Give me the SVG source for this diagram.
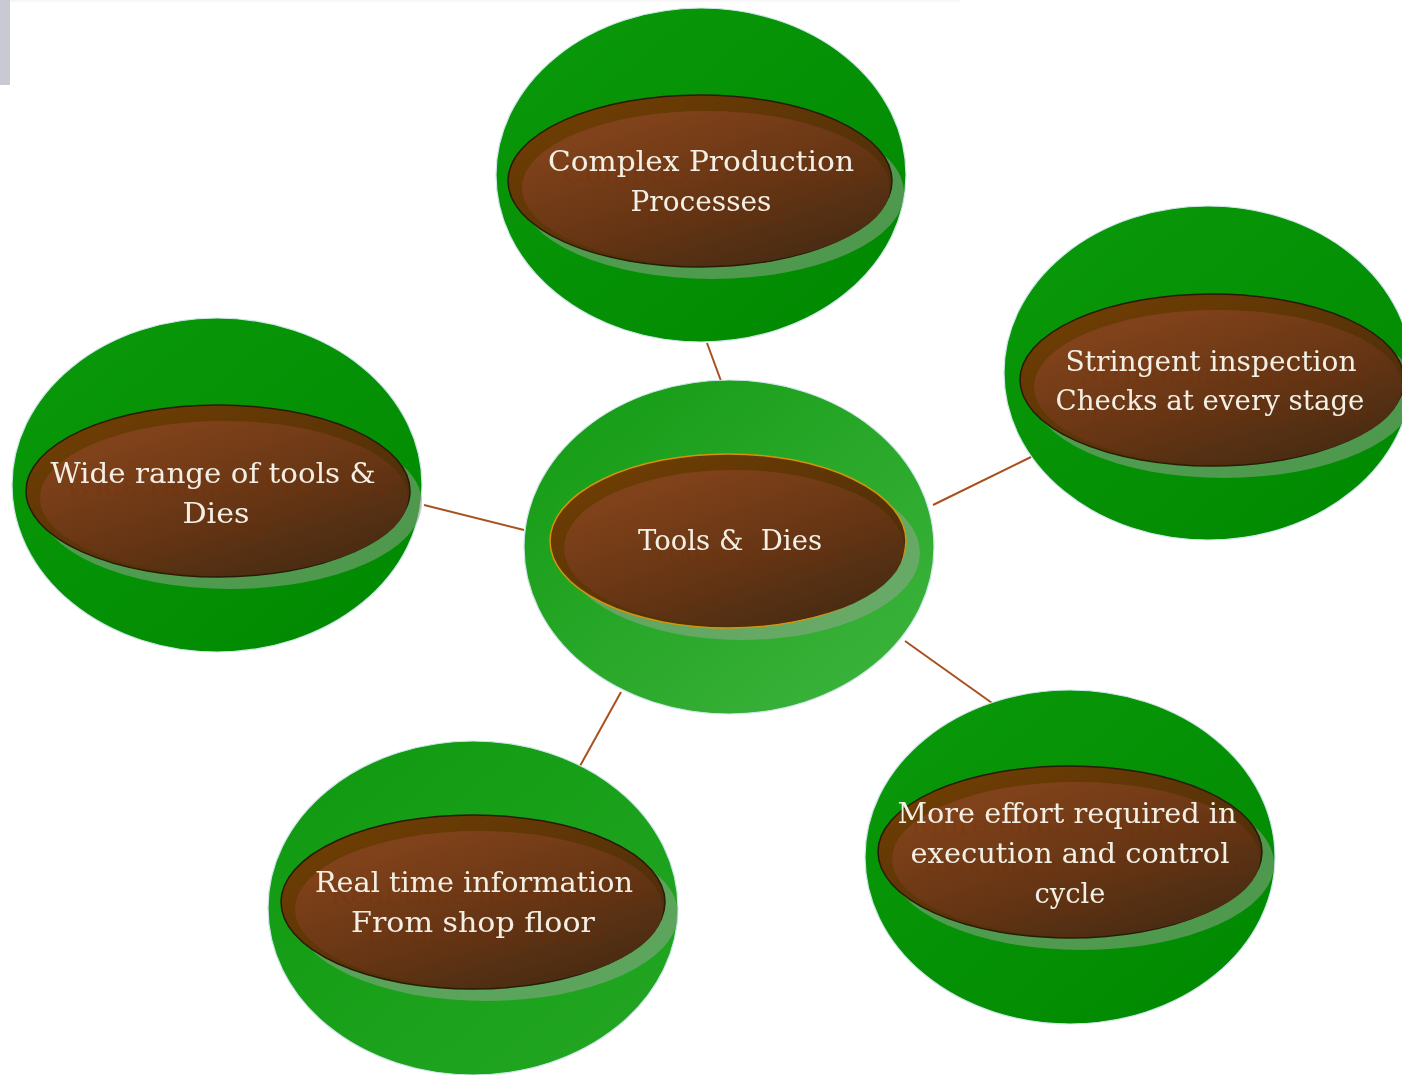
<svg xmlns="http://www.w3.org/2000/svg" width="1402" height="1075" viewBox="0 0 1402 1075">
<style>
.outer{stroke:#cfe6ea;stroke-width:1.2}
.shadow{fill:#9aa59a;opacity:0.5}
.brown{fill:url(#brownG);stroke:#2b1a08;stroke-width:1.5}
.brownC{fill:url(#brownG);stroke:#d4930c;stroke-width:1.5}
.glow{fill:url(#glowG)}
.lbl{font-family:"DejaVu Serif","Liberation Serif",serif;font-size:27px;fill:#f4efe4;text-anchor:middle;white-space:pre}
.conn{stroke:#a8501e;stroke-width:2;fill:none}
</style>
<defs>
<linearGradient id="greenG" x1="0" y1="0" x2="1" y2="1">
<stop offset="0" stop-color="#0a9a0a"/>
<stop offset="1" stop-color="#008800"/>
</linearGradient>
<linearGradient id="greenC" x1="0" y1="0" x2="1" y2="1">
<stop offset="0" stop-color="#129a12"/>
<stop offset="1" stop-color="#3fb53f"/>
</linearGradient>
<linearGradient id="greenL" x1="0" y1="0" x2="1" y2="1">
<stop offset="0" stop-color="#0f990f"/>
<stop offset="1" stop-color="#24a724"/>
</linearGradient>
<linearGradient id="brownG" x1="0" y1="0" x2="1" y2="1">
<stop offset="0" stop-color="#744002"/>
<stop offset="1" stop-color="#43290c"/>
</linearGradient>
<linearGradient id="glowG" x1="0.2" y1="0.15" x2="0.85" y2="1">
<stop offset="0" stop-color="#80421a"/>
<stop offset="0.5" stop-color="#663514"/>
<stop offset="1" stop-color="#432a12"/>
</linearGradient>
<filter id="tshadow" x="-10%" y="-30%" width="130%" height="180%">
<feOffset in="SourceAlpha" dx="14" dy="12" result="o"/>
<feFlood flood-color="#7a2818" flood-opacity="0.18"/>
<feComposite in2="o" operator="in" result="s"/>
<feMerge><feMergeNode in="s"/><feMergeNode in="SourceGraphic"/></feMerge>
</filter>
</defs>
<rect width="1402" height="1075" fill="#ffffff"/>
<rect x="0" y="0" width="960" height="2" fill="#f7f7f7"/>
<rect x="0" y="0" width="10" height="85" fill="#c9c9d1"/>

<g id="connectors">
<line class="conn" x1="707" y1="343" x2="721" y2="381"/>
<line class="conn" x1="933" y1="505" x2="1033" y2="456"/>
<line class="conn" x1="424" y1="505" x2="524" y2="530"/>
<line class="conn" x1="905" y1="641" x2="992" y2="703"/>
<line class="conn" x1="621" y1="692" x2="580" y2="766"/>
</g>

<g id="node-top">
<ellipse class="outer" cx="701" cy="175" rx="205" ry="167" fill="url(#greenG)"/>
<ellipse class="shadow" cx="712" cy="193" rx="192" ry="86"/>
<ellipse class="brown" cx="700" cy="181" rx="192" ry="86"/>
<ellipse class="glow" cx="706" cy="188" rx="184" ry="77"/>
<g filter="url(#tshadow)">
<text class="lbl" x="701" y="171" textLength="306" lengthAdjust="spacingAndGlyphs">Complex Production</text>
<text class="lbl" x="701" y="211" textLength="141" lengthAdjust="spacingAndGlyphs">Processes</text>
</g>
</g>

<g id="node-right">
<ellipse class="outer" cx="1208" cy="373" rx="204" ry="167" fill="url(#greenG)"/>
<ellipse class="shadow" cx="1224" cy="392" rx="192" ry="86"/>
<ellipse class="brown" cx="1212" cy="380" rx="192" ry="86"/>
<ellipse class="glow" cx="1218" cy="387" rx="184" ry="77"/>
<g filter="url(#tshadow)">
<text class="lbl" x="1211" y="371" textLength="291" lengthAdjust="spacingAndGlyphs">Stringent inspection</text>
<text class="lbl" x="1210" y="410" textLength="309" lengthAdjust="spacingAndGlyphs">Checks at every stage</text>
</g>
</g>

<g id="node-left">
<ellipse class="outer" cx="217" cy="485" rx="205" ry="167" fill="url(#greenG)"/>
<ellipse class="shadow" cx="230" cy="503" rx="192" ry="86"/>
<ellipse class="brown" cx="218" cy="491" rx="192" ry="86"/>
<ellipse class="glow" cx="224" cy="498" rx="184" ry="77"/>
<g filter="url(#tshadow)">
<text class="lbl" x="213" y="483" textLength="325" lengthAdjust="spacingAndGlyphs">Wide range of tools &amp;</text>
<text class="lbl" x="216" y="523" textLength="67" lengthAdjust="spacingAndGlyphs">Dies</text>
</g>
</g>

<g id="node-center">
<ellipse class="outer" cx="729" cy="547" rx="205" ry="167" fill="url(#greenC)"/>
<ellipse class="shadow" cx="742" cy="553" rx="178" ry="87"/>
<ellipse class="brownC" cx="728" cy="541" rx="178" ry="87"/>
<ellipse class="glow" cx="734" cy="548" rx="170" ry="78"/>
<g filter="url(#tshadow)">
<text class="lbl" x="730" y="550" textLength="184" lengthAdjust="spacingAndGlyphs">Tools &amp;  Dies</text>
</g>
</g>

<g id="node-bottom-right">
<ellipse class="outer" cx="1070" cy="857" rx="205" ry="167" fill="url(#greenG)"/>
<ellipse class="shadow" cx="1082" cy="864" rx="192" ry="86"/>
<ellipse class="brown" cx="1070" cy="852" rx="192" ry="86"/>
<ellipse class="glow" cx="1076" cy="859" rx="184" ry="77"/>
<g filter="url(#tshadow)">
<text class="lbl" x="1067" y="823" textLength="339" lengthAdjust="spacingAndGlyphs">More effort required in</text>
<text class="lbl" x="1070" y="863" textLength="319" lengthAdjust="spacingAndGlyphs">execution and control</text>
<text class="lbl" x="1070" y="903" textLength="71" lengthAdjust="spacingAndGlyphs">cycle</text>
</g>
</g>

<g id="node-bottom-left">
<ellipse class="outer" cx="473" cy="908" rx="205" ry="167" fill="url(#greenL)"/>
<ellipse class="shadow" cx="486" cy="914" rx="192" ry="87"/>
<ellipse class="brown" cx="473" cy="902" rx="192" ry="87"/>
<ellipse class="glow" cx="479" cy="909" rx="184" ry="78"/>
<g filter="url(#tshadow)">
<text class="lbl" x="474" y="892" textLength="318" lengthAdjust="spacingAndGlyphs">Real time information</text>
<text class="lbl" x="473" y="932" textLength="244" lengthAdjust="spacingAndGlyphs">From shop floor</text>
</g>
</g>
</svg>
